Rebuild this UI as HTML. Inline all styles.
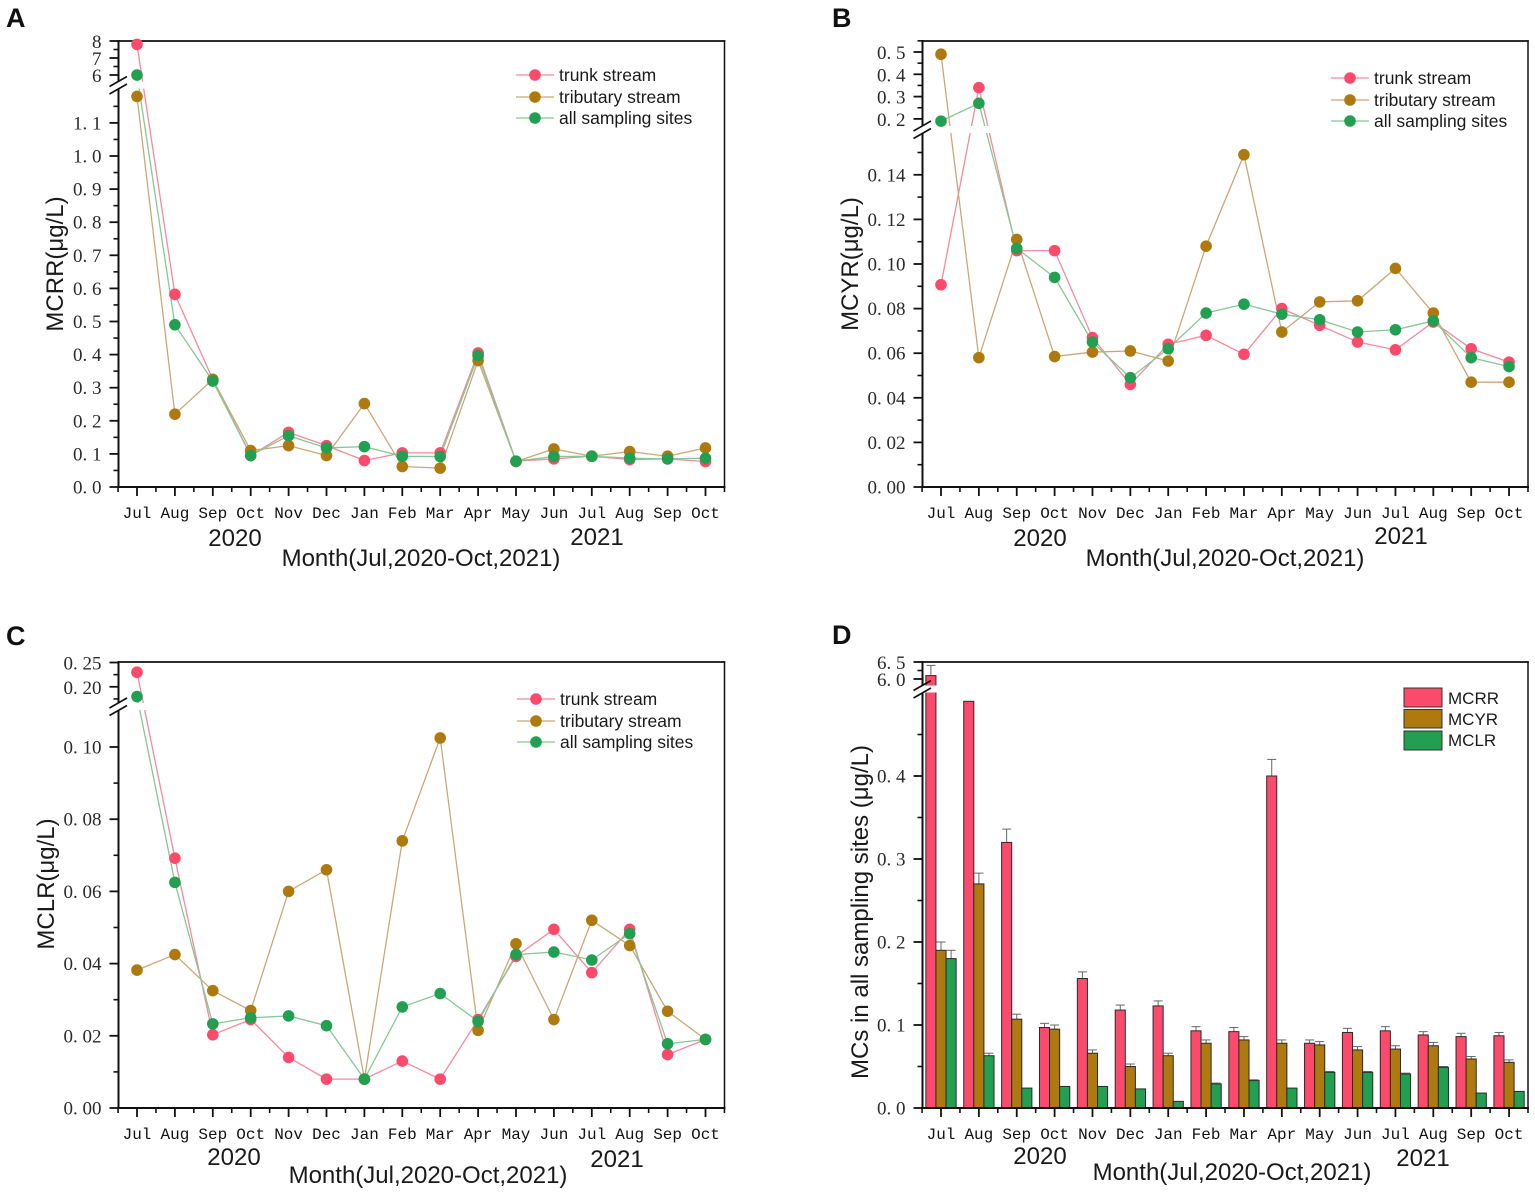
<!DOCTYPE html>
<html lang="en">
<head>
<meta charset="utf-8">
<title>Microcystin concentrations, Jul 2020 – Oct 2021</title>
<style>
html,body{margin:0;padding:0;background:#fff;}
svg{display:block;}
.letter{font:bold 27px "Liberation Sans",sans-serif;fill:#111;}
.ytitle,.xtitle,.year{font:24px "Liberation Sans",sans-serif;fill:#1a1a1a;text-anchor:middle;}
.legend{font:17.5px "Liberation Sans",sans-serif;fill:#1a1a1a;}
.legendd{font:17px "Liberation Sans",sans-serif;fill:#1a1a1a;}
.ylab{font:19px "Liberation Serif",serif;fill:#2a2a2a;text-anchor:end;}
.xlab{font:16px "Liberation Mono",monospace;fill:#111;text-anchor:middle;}
</style>
</head>
<body>
<svg id="fig" width="1535" height="1192" viewBox="0 0 1535 1192" xmlns="http://www.w3.org/2000/svg">
<rect width="1535" height="1192" fill="#fff"/>

<g id="panelA"></g>
<g id="panelB"></g>
<g id="panelC"></g>
<g id="panelD"></g>

<text class="letter" x="6" y="27">A</text>
<text class="letter" x="832" y="27">B</text>
<text class="letter" x="6" y="645">C</text>
<text class="letter" x="832" y="644">D</text>

<text class="ytitle" transform="translate(63,264) rotate(-90)">MCRR(μg/L)</text>
<text class="year" x="235" y="546">2020</text>
<text class="year" x="597" y="545">2021</text>
<text class="xtitle" x="421" y="566">Month(Jul,2020-Oct,2021)</text>

<text class="ytitle" transform="translate(858,264) rotate(-90)">MCYR(μg/L)</text>
<text class="year" x="1040" y="546">2020</text>
<text class="year" x="1401" y="544">2021</text>
<text class="xtitle" x="1225" y="566">Month(Jul,2020-Oct,2021)</text>

<text class="ytitle" transform="translate(54,884) rotate(-90)">MCLR(μg/L)</text>
<text class="year" x="234" y="1165">2020</text>
<text class="year" x="617" y="1167">2021</text>
<text class="xtitle" x="428" y="1183">Month(Jul,2020-Oct,2021)</text>

<text class="ytitle" transform="translate(868,912) rotate(-90)">MCs in all sampling sites (μg/L)</text>
<text class="year" x="1040" y="1164">2020</text>
<text class="year" x="1423" y="1166">2021</text>
<text class="xtitle" x="1232" y="1180">Month(Jul,2020-Oct,2021)</text>

<g>
  <g><line x1="516" x2="554" y1="75" y2="75" stroke="#f58a9e" stroke-width="1.3"/><circle cx="535" cy="75" r="5.8" fill="#fb4a6c"/><text class="legend" x="559" y="81">trunk stream</text></g>
  <g><line x1="516" x2="554" y1="97" y2="97" stroke="#c9a878" stroke-width="1.3"/><circle cx="535" cy="97" r="5.8" fill="#ae7a10"/><text class="legend" x="559" y="103">tributary stream</text></g>
  <g><line x1="516" x2="554" y1="118" y2="118" stroke="#86c795" stroke-width="1.3"/><circle cx="535" cy="118" r="5.8" fill="#229f50"/><text class="legend" x="559" y="124">all sampling sites</text></g>
</g>
<g>
  <g><line x1="1331" x2="1369" y1="78" y2="78" stroke="#f58a9e" stroke-width="1.3"/><circle cx="1350" cy="78" r="5.8" fill="#fb4a6c"/><text class="legend" x="1374" y="84">trunk stream</text></g>
  <g><line x1="1331" x2="1369" y1="100" y2="100" stroke="#c9a878" stroke-width="1.3"/><circle cx="1350" cy="100" r="5.8" fill="#ae7a10"/><text class="legend" x="1374" y="106">tributary stream</text></g>
  <g><line x1="1331" x2="1369" y1="121" y2="121" stroke="#86c795" stroke-width="1.3"/><circle cx="1350" cy="121" r="5.8" fill="#229f50"/><text class="legend" x="1374" y="127">all sampling sites</text></g>
</g>
<g>
  <g><line x1="517" x2="555" y1="699" y2="699" stroke="#f58a9e" stroke-width="1.3"/><circle cx="536" cy="699" r="5.8" fill="#fb4a6c"/><text class="legend" x="560" y="705">trunk stream</text></g>
  <g><line x1="517" x2="555" y1="721" y2="721" stroke="#c9a878" stroke-width="1.3"/><circle cx="536" cy="721" r="5.8" fill="#ae7a10"/><text class="legend" x="560" y="727">tributary stream</text></g>
  <g><line x1="517" x2="555" y1="742" y2="742" stroke="#86c795" stroke-width="1.3"/><circle cx="536" cy="742" r="5.8" fill="#229f50"/><text class="legend" x="560" y="748">all sampling sites</text></g>
</g>
<g>
  <g><rect x="1404" y="688" width="38" height="19" fill="#fb4a6c" stroke="#333" stroke-width="1"/><text class="legendd" x="1448" y="704">MCRR</text></g>
  <g><rect x="1404" y="709.5" width="38" height="18.5" fill="#ae7a10" stroke="#333" stroke-width="1"/><text class="legendd" x="1448" y="725">MCYR</text></g>
  <g><rect x="1404" y="731" width="38" height="19" fill="#229f50" stroke="#333" stroke-width="1"/><text class="legendd" x="1448" y="746">MCLR</text></g>
</g>
</svg>

<script>
// ---- Shared categories ----
const months = ['Jul','Aug','Sep','Oct','Nov','Dec','Jan','Feb','Mar','Apr','May','Jun','Jul','Aug','Sep','Oct'];

// ---- Panel A: MCRR ----
const aTrunk = [7.8,0.582,0.325,0.095,0.165,0.125,0.08,0.103,0.103,0.405,0.078,0.085,0.093,0.083,0.085,0.077];
const aTributary = [1.18,0.22,0.325,0.11,0.125,0.095,0.252,0.062,0.057,0.382,0.077,0.115,0.093,0.107,0.093,0.118];
const aAll = [6.0,0.49,0.32,0.095,0.155,0.118,0.122,0.093,0.092,0.397,0.078,0.092,0.093,0.087,0.085,0.087];
const aTicks = [0,0.1,0.2,0.3,0.4,0.5,0.6,0.7,0.8,0.9,1.0,1.1,6,7,8];
const aTickLabels = ['0. 0','0. 1','0. 2','0. 3','0. 4','0. 5','0. 6','0. 7','0. 8','0. 9','1. 0','1. 1','6','7','8'];
const aMinorTicks = [0.05,0.15,0.25,0.35,0.45,0.55,0.65,0.75,0.85,0.95,1.05,1.15,6.5,7.5];

// ---- Panel B: MCYR ----
const bTrunk = [0.0907,0.34,0.106,0.106,0.067,0.046,0.064,0.068,0.0595,0.08,0.0725,0.065,0.0615,0.074,0.062,0.056];
const bTributary = [0.49,0.058,0.111,0.0585,0.0605,0.061,0.0565,0.108,0.149,0.0695,0.083,0.0835,0.098,0.078,0.047,0.047];
const bAll = [0.19,0.27,0.107,0.094,0.065,0.049,0.062,0.078,0.082,0.0775,0.075,0.0695,0.0705,0.0745,0.058,0.054];
const bTicks = [0,0.02,0.04,0.06,0.08,0.10,0.12,0.14,0.2,0.3,0.4,0.5];
const bTickLabels = ['0. 00','0. 02','0. 04','0. 06','0. 08','0. 10','0. 12','0. 14','0. 2','0. 3','0. 4','0. 5'];
const bMinorTicks = [0.01,0.03,0.05,0.07,0.09,0.11,0.13,0.15,0.25,0.35,0.45,0.55];

// ---- Panel C: MCLR ----
const cTrunk = [0.23,0.0692,0.0203,0.0245,0.014,0.008,0.008,0.013,0.008,0.0245,0.042,0.0495,0.0375,0.0495,0.0148,0.019];
const cTributary = [0.0382,0.0425,0.0325,0.027,0.06,0.066,0.008,0.074,0.1025,0.0215,0.0455,0.0245,0.052,0.045,0.0268,0.019];
const cAll = [0.18,0.0625,0.0233,0.025,0.0255,0.0228,0.008,0.028,0.0317,0.024,0.0425,0.0432,0.041,0.0483,0.0178,0.019];
const cTicks = [0,0.02,0.04,0.06,0.08,0.10,0.20,0.25];
const cTickLabels = ['0. 00','0. 02','0. 04','0. 06','0. 08','0. 10','0. 20','0. 25'];
const cMinorTicks = [0.01,0.03,0.05,0.07,0.09,0.175,0.225];

// ---- Panel D: means of all sampling sites with error bars ----
const dMCRR = [6.1,0.49,0.32,0.097,0.156,0.118,0.123,0.093,0.092,0.40,0.078,0.091,0.093,0.088,0.086,0.087];
const dMCYR = [0.19,0.27,0.107,0.095,0.066,0.05,0.063,0.078,0.082,0.078,0.076,0.07,0.071,0.075,0.059,0.055];
const dMCLR = [0.18,0.063,0.024,0.026,0.026,0.023,0.008,0.029,0.033,0.024,0.043,0.043,0.041,0.049,0.018,0.02];
const dErrMCRR = [0.3,0,0.016,0.005,0.008,0.006,0.006,0.005,0.005,0.02,0.004,0.005,0.005,0.004,0.004,0.004];
const dErrMCYR = [0.01,0.013,0.006,0.005,0.004,0.003,0.003,0.004,0.004,0.004,0.004,0.004,0.004,0.004,0.003,0.003];
const dErrMCLR = [0.01,0.003,0,0,0,0,0,0.001,0.001,0,0.001,0.001,0.001,0.001,0,0];
const dTicks = [0,0.1,0.2,0.3,0.4,6.0,6.5];
const dTickLabels = ['0. 0','0. 1','0. 2','0. 3','0. 4','6. 0','6. 5'];
const dMinorTicks = [0.05,0.15,0.25,0.35,0.45,6.25];

// ---- Styles ----
const pink = '#fb4a6c', pinkLine = '#f58a9e';
const brown = '#ae7a10', brownLine = '#c9a878';
const green = '#229f50', greenLine = '#86c795';

const NS = 'http://www.w3.org/2000/svg';
function svgEl(tag, attrs, parent) {
  const e = document.createElementNS(NS, tag);
  for (const k in attrs) e.setAttribute(k, attrs[k]);
  parent.appendChild(e);
  return e;
}

// Axis functions
function xScale(p) { return i => p.x0 + i * p.dx; }
function yScale(p) {
  return v => v >= p.split ? p.upRefY + (p.upRefV - v) * p.upPpu : p.bottom - v * p.lowPpu;
}

function drawAxes(g, p, ticks, labels, minors) {
  const x = xScale(p), y = yScale(p);
  const axes = [
    ['axis-left', p.left, p.top, p.left, p.bottom, 2],
    ['axis-bottom', p.left, p.bottom, p.right, p.bottom, 2],
    ['axis-top', p.left, p.top, p.right, p.top, 1.7],
    ['axis-right', p.right, p.top, p.right, p.bottom, 1.5]
  ];
  axes.forEach(a => {
    const l = svgEl('line', {x1:a[1], y1:a[2], x2:a[3], y2:a[4], stroke:'#111', 'stroke-width':a[5], 'stroke-linecap':'square'}, g);
    
    
  });
  ticks.forEach((v, i) => {
    const t = svgEl('line', {x1:p.left-9, x2:p.left, y1:y(v), y2:y(v), stroke:'#111', 'stroke-width':1.8}, g);
    
    
    const txt = svgEl('text', {x:p.left-17, y:y(v)+ (v >= p.split ? 7 : 6.5), class:'ylab'}, g);
    
    
    txt.textContent = labels[i];
  });
  minors.forEach(v => {
    const t = svgEl('line', {x1:p.left-5, x2:p.left, y1:y(v), y2:y(v), stroke:'#111', 'stroke-width':1.6}, g);
    
    
  });
  months.forEach((m, i) => {
    const t = svgEl('line', {x1:x(i), x2:x(i), y1:p.bottom, y2:p.bottom+9, stroke:'#111', 'stroke-width':1.8}, g);
    
    
    const txt = svgEl('text', {x:x(i), y:p.bottom+p.xLabelDy, class:'xlab'}, g);
    
    
    txt.textContent = m;
  });
  for (let i = -0.5; i <= months.length - 0.5; i++) {
    const t = svgEl('line', {x1:x(i), x2:x(i), y1:p.bottom, y2:p.bottom+5, stroke:'#111', 'stroke-width':1.6}, g);
    
    
  }
}

function drawGap(g, p) {
  const r = svgEl('rect', {x:p.left-1.5, y:p.gapY, width:p.right-p.left-1, height:p.gapH, fill:'#fff'}, g);
  
  
}
function drawBreak(g, p) {
  [p.gapY, p.gapY + 7.5].forEach(yb => {
    const l = svgEl('line', {x1:p.left-9, x2:p.left+8.5, y1:yb+5, y2:yb-5, stroke:'#111', 'stroke-width':1.6}, g);
    
    
  });
}

function drawLinePanel(id, p, series, ticks, labels, minors) {
  const g = document.getElementById(id);
  const x = xScale(p), y = yScale(p);
  drawAxes(g, p, ticks, labels, minors);
  series.forEach(s => {
    const pl = svgEl('polyline', {points:s.values.map((v,i)=>x(i)+','+y(v)).join(' '), fill:'none', stroke:s.line, 'stroke-width':1.3}, g);
    
    
  });
  drawGap(g, p);
  series.forEach(s => {
    s.values.forEach((v, i) => {
      const c = svgEl('circle', {cx:x(i), cy:y(v), r:5.8, fill:s.color}, g);
      
      
    });
  });
  drawBreak(g, p);
}

function drawBarPanel(id, p, series, ticks, labels, minors) {
  const g = document.getElementById(id);
  const x = xScale(p), y = yScale(p);
  const w = 10.1;
  series.forEach((s, k) => {
    s.values.forEach((v, i) => {
      const cx = x(i) + (k - 1) * w;
      const top = y(v);
      const e = s.errors[i];
      if (e > 0) {
        const yt = y(v + e);
        const st = svgEl('line', {x1:cx, x2:cx, y1:top, y2:yt, stroke:'#666', 'stroke-width':1}, g);
        
        
        const cap = svgEl('line', {x1:cx-4.5, x2:cx+4.5, y1:yt, y2:yt, stroke:'#666', 'stroke-width':1}, g);
        
        
      }
      const b = svgEl('rect', {x:cx-w/2, y:top, width:w, height:p.bottom-top, fill:s.color, stroke:'#2b2b2b', 'stroke-width':1}, g);
      
      
    });
  });
  drawAxes(g, p, ticks, labels, minors);
  drawGap(g, p);
  drawBreak(g, p);
}

const common = {right:724.5, left:118.5, x0:137, dx:37.9};
const commonR = {right:1528, left:922.5, x0:941, dx:37.87};

drawLinePanel('panelA',
  Object.assign({}, common, {top:41, bottom:487, lowPpu:331, split:3, upRefV:8, upRefY:41, upPpu:17, gapY:81.5, gapH:7, xLabelDy:31}),
  [{name:'trunk-stream', values:aTrunk, color:pink, line:pinkLine},
   {name:'tributary-stream', values:aTributary, color:brown, line:brownLine},
   {name:'all-sampling-sites', values:aAll, color:green, line:greenLine}],
  aTicks, aTickLabels, aMinorTicks);

drawLinePanel('panelB',
  Object.assign({}, commonR, {top:41, bottom:487, lowPpu:2230, split:0.18, upRefV:0.5, upRefY:52, upPpu:223, gapY:126, gapH:7, xLabelDy:31}),
  [{name:'trunk-stream', values:bTrunk, color:pink, line:pinkLine},
   {name:'tributary-stream', values:bTributary, color:brown, line:brownLine},
   {name:'all-sampling-sites', values:bAll, color:green, line:greenLine}],
  bTicks, bTickLabels, bMinorTicks);

drawLinePanel('panelC',
  Object.assign({}, common, {top:662, bottom:1108, lowPpu:3610, split:0.15, upRefV:0.25, upRefY:662.5, upPpu:486, gapY:703, gapH:7, xLabelDy:31}),
  [{name:'trunk-stream', values:cTrunk, color:pink, line:pinkLine},
   {name:'tributary-stream', values:cTributary, color:brown, line:brownLine},
   {name:'all-sampling-sites', values:cAll, color:green, line:greenLine}],
  cTicks, cTickLabels, cMinorTicks);

drawBarPanel('panelD',
  Object.assign({}, commonR, {top:662, bottom:1108, lowPpu:830, split:3, upRefV:6.5, upRefY:662, upPpu:34, gapY:685.5, gapH:7, xLabelDy:31}),
  [{name:'mcrr', values:dMCRR, errors:dErrMCRR, color:pink},
   {name:'mcyr', values:dMCYR, errors:dErrMCYR, color:brown},
   {name:'mclr', values:dMCLR, errors:dErrMCLR, color:green}],
  dTicks, dTickLabels, dMinorTicks);
</script>
</body>
</html>
